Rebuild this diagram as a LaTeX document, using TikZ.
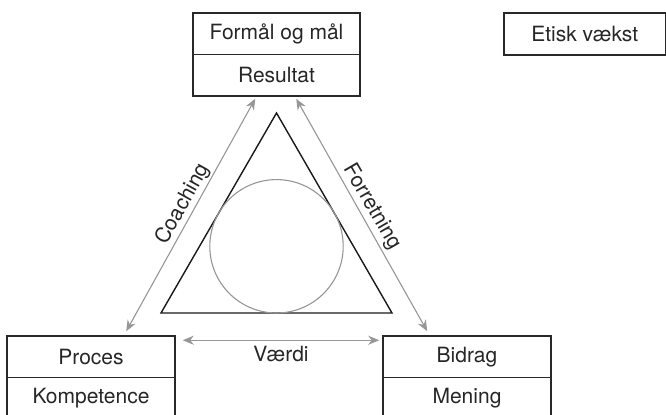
\documentclass[tikz,border=0pt]{standalone}
\usepackage{fontspec}
\setmainfont{TeX Gyre Heros}
\usetikzlibrary{arrows.meta}
\definecolor{arrgray}{RGB}{150,150,150}
\definecolor{boxline}{RGB}{40,40,40}
\begin{document}
\begin{tikzpicture}[x=0.5pt,y=-0.5pt,
  boxnode/.style={draw=boxline,line width=0.75pt,inner sep=0pt,minimum height=20.75pt,
    font=\fontsize{10.5}{12}\selectfont,text=black!85},
  conn/.style={draw=arrgray,line width=0.55pt,{Stealth[length=5.5pt,width=4.5pt]}-{Stealth[length=5.5pt,width=4.5pt]}},
  lbl/.style={font=\fontsize{10.5}{12}\selectfont,text=black!85,inner sep=0pt}]
\useasboundingbox (0,0) rectangle (666,415);
% boxes
\node[boxnode,minimum width=83.5pt] (fm) at (276.5,33.75) {Formål og mål};
\node[boxnode,minimum width=83.5pt] (res) at (276.5,75.25) {Resultat};
\node[boxnode,minimum width=84pt] (proc) at (91,356.75) {Proces};
\node[boxnode,minimum width=84pt] (komp) at (91,398.25) {Kompetence};
\node[boxnode,minimum width=84pt] (bid) at (467,356.75) {Bidrag};
\node[boxnode,minimum width=84pt] (men) at (467,398.25) {Mening};
\node[boxnode,minimum width=80.75pt,minimum height=21pt] (etisk) at (584.75,34) {Etisk vækst};
% triangle and circle
\draw[line width=0.7pt,black!90,line join=miter] (161,313) -- (276.5,113) -- (392,313) -- cycle;
\draw[line width=0.55pt,arrgray] (276.5,246.3) circle[radius=66.7];
% connectors
\draw[conn] ([shift={(63,2)}]res.south west) -- ([shift={(120,-4)}]proc.north west);
\draw[conn] ([shift={(104,2)}]res.south west) -- ([shift={(45,-4)}]bid.north west);
\draw[conn] ([shift={(7,5)}]proc.north east) -- ([shift={(-3,5)}]bid.north west);
% labels
\node[lbl,rotate=61] (coach) at (183,204) {Coaching};
\node[lbl,rotate=-60] (forr) at (372,207) {Forretning};
\node[lbl] (vaerdi) at (281,354) {Værdi};
\end{tikzpicture}
\end{document}
